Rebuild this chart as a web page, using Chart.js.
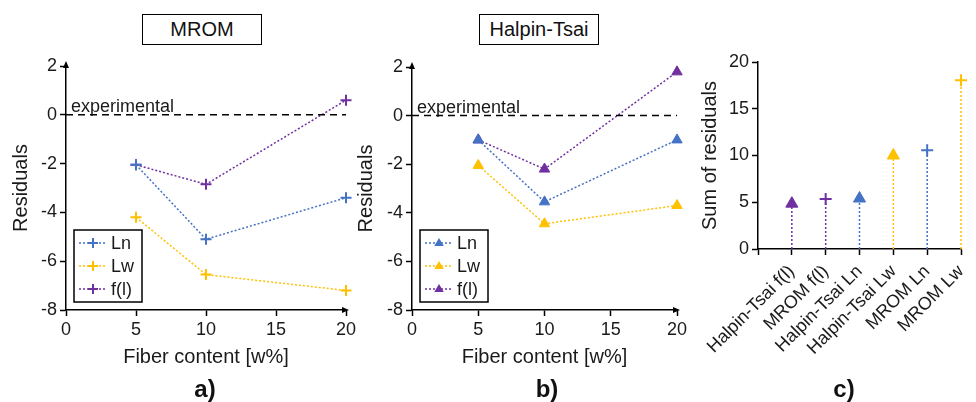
<!DOCTYPE html>
<html lang="en">
<head>
  <meta charset="UTF-8">
  <title>Residuals</title>
  <script src="https://cdn.jsdelivr.net/npm/chart.js"></script>
  <style>
    body { margin: 0; background: #fff; width: 976px; height: 402px; position: relative; overflow: hidden;
           font-family: 'Liberation Sans', Arial, sans-serif; }
    canvas { position: absolute; }
    .tbox { position: absolute; height: 31px; border: 1.5px solid #000; box-sizing: border-box;
            font-size: 20px; line-height: 29px; text-align: center; color: #111; }
    .plabel { position: absolute; top: 375px; width: 60px; margin-left: -30px; text-align: center;
              font-weight: bold; font-size: 24px; color: #111; }
  </style>
</head>
<body>
  <div class="tbox" style="left:142px; top:14px; width:120px;">MROM</div>
  <div class="tbox" style="left:479px; top:14px; width:120px;">Halpin-Tsai</div>

  <canvas id="chartA" width="370" height="340" style="left:0px; top:40px;"></canvas>
  <canvas id="chartB" width="360" height="340" style="left:345px; top:40px;"></canvas>
  <canvas id="chartC" width="296" height="330" style="left:680px; top:40px;"></canvas>

  <div class="plabel" style="left:205px;">a)</div>
  <div class="plabel" style="left:547px;">b)</div>
  <div class="plabel" style="left:844px;">c)</div>

  <script>
    // data
    const fiberContent = [5, 10, 20];
    const seriesNames = ['Ln', 'Lw', 'f(l)'];

    const mromLn = [-2.05, -5.1, -3.4];
    const mromLw = [-4.2, -6.55, -7.2];
    const mromFl = [-2.05, -2.85, 0.6];

    const htLn = [-1.0, -3.55, -1.0];
    const htLw = [-2.05, -4.45, -3.7];
    const htFl = [-1.0, -2.2, 1.8];

    const sumCategories = ['Halpin-Tsai f(l)', 'MROM f(l)', 'Halpin-Tsai Ln', 'Halpin-Tsai Lw', 'MROM Ln', 'MROM Lw'];
    const sumValues = [4.85, 5.35, 5.4, 10.0, 10.55, 18.05];

    const fiberTicks = [0, 5, 10, 15, 20];
    const residualTicks = [-8, -6, -4, -2, 0, 2];
    const sumTicks = [0, 5, 10, 15, 20];

    // styles
    const colors = { 'Ln': '#4472C4', 'Lw': '#FFC000', 'f(l)': '#7030A0' };
    const textColor = '#1a1a1a';
    Chart.defaults.font.family = "'Liberation Sans', Arial, sans-serif";
    Chart.defaults.color = textColor;

    function pts(xs, ys) {
      return xs.map((x, i) => ({ x: x, y: ys[i] }));
    }

    function drawMarker(ctx, style, x, y, r, color) {
      ctx.save();
      ctx.strokeStyle = color;
      ctx.fillStyle = color;
      ctx.lineWidth = 2;
      ctx.setLineDash([]);
      ctx.beginPath();
      if (style === 'cross') {
        ctx.moveTo(x - r, y); ctx.lineTo(x + r, y);
        ctx.moveTo(x, y - r); ctx.lineTo(x, y + r);
        ctx.stroke();
      } else {
        ctx.moveTo(x, y - r);
        ctx.lineTo(x + r * 0.95, y + r * 0.6);
        ctx.lineTo(x - r * 0.95, y + r * 0.6);
        ctx.closePath();
        ctx.fill();
      }
      ctx.restore();
    }

    // experimental label, axis arrows and the boxed legend
    function extrasPlugin(marker) {
      return {
        id: 'extras',
        afterDraw(chart) {
          const ctx = chart.ctx;
          const area = chart.chartArea;
          const y0 = chart.scales.y.getPixelForValue(0);
          ctx.save();
          ctx.fillStyle = textColor;
          ctx.font = "18px 'Liberation Sans', Arial, sans-serif";
          ctx.textBaseline = 'alphabetic';
          ctx.textAlign = 'left';
          ctx.fillText('experimental', area.left + 5, y0 - 3);

          // arrow heads
          ctx.fillStyle = '#000';
          ctx.beginPath();
          ctx.moveTo(area.left, area.top - 5);
          ctx.lineTo(area.left - 3, area.top + 2);
          ctx.lineTo(area.left + 3, area.top + 2);
          ctx.closePath();
          ctx.fill();
          ctx.beginPath();
          ctx.moveTo(area.right + 3, area.bottom);
          ctx.lineTo(area.right - 4, area.bottom - 3);
          ctx.lineTo(area.right - 4, area.bottom + 3);
          ctx.closePath();
          ctx.fill();

          // legend
          const lx = area.left + 8, ly = area.bottom - 80;
          ctx.strokeStyle = '#000';
          ctx.lineWidth = 1.5;
          ctx.strokeRect(lx, ly, 68, 72);
          seriesNames.forEach((name, i) => {
            const ry = ly + 13 + i * 23;
            ctx.save();
            ctx.strokeStyle = colors[name];
            ctx.lineWidth = 1.5;
            ctx.setLineDash([2, 2]);
            ctx.beginPath();
            ctx.moveTo(lx + 5, ry);
            ctx.lineTo(lx + 32, ry);
            ctx.stroke();
            ctx.restore();
            drawMarker(ctx, marker, lx + 19, ry, 5, colors[name]);
            ctx.fillStyle = textColor;
            ctx.textBaseline = 'middle';
            ctx.fillText(name, lx + 37, ry + 1);
          });
          ctx.restore();
        }
      };
    }

    function residualChart(id, series, marker, yWidth, pad) {
      const datasets = [{
        data: [{ x: 0, y: 0 }, { x: 20, y: 0 }],
        showLine: true,
        borderColor: '#000',
        borderWidth: 1.5,
        borderDash: [7, 5],
        pointRadius: 0
      }];
      seriesNames.forEach((name, i) => {
        datasets.push({
          label: name,
          data: pts(fiberContent, series[i]),
          showLine: true,
          clip: false,
          borderColor: colors[name],
          backgroundColor: colors[name],
          borderWidth: 1.5,
          borderDash: [2, 2],
          pointStyle: marker === 'cross' ? 'cross' : 'triangle',
          pointRadius: marker === 'cross' ? 5.5 : 6,
          pointBorderWidth: marker === 'cross' ? 2 : 1,
          pointBorderColor: colors[name],
          pointBackgroundColor: colors[name]
        });
      });

      return new Chart(document.getElementById(id), {
        type: 'scatter',
        data: { datasets: datasets },
        options: {
          responsive: false,
          animation: false,
          layout: { padding: pad },
          plugins: { legend: { display: false }, tooltip: { enabled: false } },
          scales: {
            x: {
              type: 'linear',
              min: fiberTicks[0],
              max: fiberTicks[fiberTicks.length - 1],
              afterBuildTicks: s => { s.ticks = fiberTicks.map(v => ({ value: v })); },
              ticks: { font: { size: 18 }, padding: 3, color: textColor },
              grid: { drawOnChartArea: false, tickLength: 6, tickColor: '#000', tickWidth: 1.5 },
              border: { color: '#000', width: 1.5 },
              title: { display: true, text: 'Fiber content [w%]', font: { size: 20 }, color: textColor,
                       padding: { top: 0, bottom: 11 } },
              afterFit: s => { s.height = 70; }
            },
            y: {
              type: 'linear',
              min: residualTicks[0],
              max: residualTicks[residualTicks.length - 1],
              afterBuildTicks: s => { s.ticks = residualTicks.map(v => ({ value: v })); },
              ticks: { font: { size: 18 }, padding: 3, color: textColor },
              grid: { drawOnChartArea: false, tickLength: 6, tickColor: '#000', tickWidth: 1.5 },
              border: { color: '#000', width: 1.5 },
              title: { display: true, text: 'Residuals', font: { size: 20 }, color: textColor,
                       padding: { top: 9, bottom: 0 } },
              afterFit: s => { s.width = yWidth; }
            }
          }
        },
        plugins: [extrasPlugin(marker)]
      });
    }

    residualChart('chartA', [mromLn, mromLw, mromFl], 'cross', 66, { top: 26, right: 24, bottom: 0, left: 0 });
    residualChart('chartB', [htLn, htLw, htFl], 'triangle', 67, { top: 27, right: 28, bottom: 0, left: 0 });

    // panel c: drop lines from zero up to each sum
    const sumDatasets = sumCategories.map((cat, i) => {
      const parts = cat.split(' ');
      const name = parts[parts.length - 1];
      const isHT = cat.indexOf('Halpin') === 0;
      return {
        label: cat,
        data: [{ x: i + 1, y: 0 }, { x: i + 1, y: sumValues[i] }],
        showLine: true,
        clip: false,
        borderColor: colors[name],
        borderWidth: 1.5,
        borderDash: [2, 2],
        pointStyle: isHT ? 'triangle' : 'cross',
        pointRadius: [0, isHT ? 7 : 6],
        pointBorderWidth: isHT ? 1 : 2,
        pointBorderColor: colors[name],
        pointBackgroundColor: colors[name]
      };
    });

    new Chart(document.getElementById('chartC'), {
      type: 'scatter',
      data: { datasets: sumDatasets },
      options: {
        responsive: false,
        animation: false,
        layout: { padding: { top: 22, right: 15, bottom: 0, left: 0 } },
        plugins: { legend: { display: false }, tooltip: { enabled: false } },
        scales: {
          x: {
            type: 'linear',
            min: 0,
            max: sumCategories.length,
            afterBuildTicks: s => {
              s.ticks = [{ value: 0 }].concat(sumCategories.map((c, i) => ({ value: i + 1 })));
            },
            ticks: {
              autoSkip: false,
              minRotation: 45,
              maxRotation: 45,
              font: { size: 18 },
              padding: 6,
              color: textColor,
              callback: v => sumCategories[v - 1] || ''
            },
            grid: { drawOnChartArea: false, tickLength: 6, tickColor: '#000', tickWidth: 1.5 },
            border: { color: '#000', width: 1.5 },
            afterFit: s => { s.height = 121; s.paddingRight = 0; s.paddingLeft = 0; }
          },
          y: {
            type: 'linear',
            min: sumTicks[0],
            max: sumTicks[sumTicks.length - 1],
            afterBuildTicks: s => { s.ticks = sumTicks.map(v => ({ value: v })); },
            ticks: { font: { size: 18 }, padding: 3, color: textColor },
            grid: { drawOnChartArea: false, tickLength: 6, tickColor: '#000', tickWidth: 1.5 },
            border: { color: '#000', width: 1.5 },
            title: { display: true, text: 'Sum of residuals', font: { size: 20 }, color: textColor,
                     padding: { top: 18, bottom: 0 } },
            afterFit: s => { s.width = 78; }
          }
        }
      }
    });
  </script>
</body>
</html>
